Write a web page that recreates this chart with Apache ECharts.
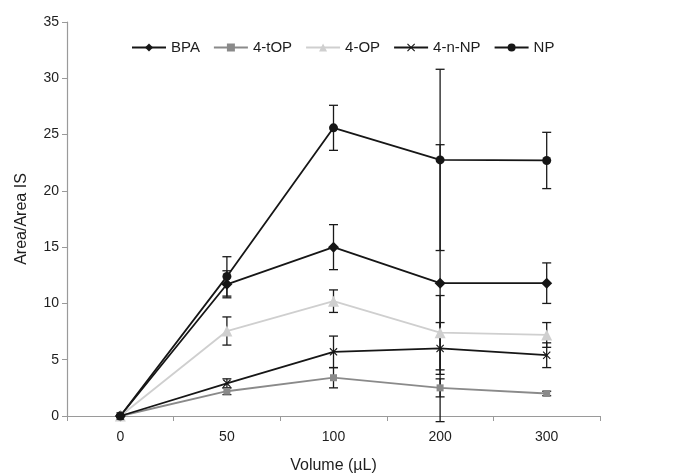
<!DOCTYPE html>
<html>
<head>
<meta charset="utf-8">
<script src="https://cdn.jsdelivr.net/npm/echarts@6/dist/echarts.min.js"></script>
<style>
  html, body { margin: 0; padding: 0; background: #fff; }
  #chart { width: 678px; height: 474px; }
</style>
</head>
<body>
<div id="chart"></div>
<script>
// Spiking volume levels (µL)
const volumes = ['0', '50', '100', '200', '300'];

// Mean response ratios
const bpa   = [0, 11.7, 15.0, 11.8, 11.8];
const tOP   = [0, 2.2, 3.4, 2.5, 2.0];
const OP    = [0, 7.55, 10.2, 7.4, 7.2];
const nNP   = [0, 2.9, 5.7, 6.0, 5.4];
const np    = [0, 12.4, 25.6, 22.75, 22.7];

// Standard deviations (symmetric error bars)
const bpaErr = [0, 1.2, 2.0, 12.3, 1.8];
const tOPErr = [0, 0.3, 0.9, 0.8, 0.2];
const OPErr  = [0, 1.25, 1.0, 3.3, 1.1];
const nNPErr = [0, 0.4, 1.4, 2.3, 1.1];
const npErr  = [0, 1.75, 2.0, 8.05, 2.5];

const yTicks = { min: 0, max: 35, interval: 5 };

const crossPath = 'path://M1,0L5,4L9,0L10,1L6,5L10,9L9,10L5,6L1,10L0,9L4,5L0,1Z';

const seriesDefs = [
  { name: 'BPA',    data: bpa, err: bpaErr, color: '#161616', symbol: 'diamond',  size: 11 },
  { name: '4-tOP',  data: tOP, err: tOPErr, color: '#8a8a8a', symbol: 'rect',     size: 7 },
  { name: '4-OP',   data: OP,  err: OPErr,  color: '#cfcfcf', symbol: 'triangle', size: 11 },
  { name: '4-n-NP', data: nNP, err: nNPErr, color: '#161616', symbol: crossPath,  size: 8 },
  { name: 'NP',     data: np,  err: npErr,  color: '#161616', symbol: 'circle',   size: 9 }
];

function errorSeries(def) {
  const rows = def.data.map((v, i) => [i, v - def.err[i], v + def.err[i]]);
  return {
    type: 'custom',
    name: def.name + ' SD',
    z: 1,
    silent: true,
    data: rows,
    renderItem: function (params, api) {
      const x = api.value(0);
      const lo = api.coord([x, api.value(1)]);
      const hi = api.coord([x, api.value(2)]);
      if (Math.abs(hi[1] - lo[1]) < 0.5) return null;
      const w = 4.5;
      const style = { stroke: '#1a1a1a', lineWidth: 1.3 };
      return {
        type: 'group',
        children: [
          { type: 'line', shape: { x1: lo[0], y1: lo[1], x2: hi[0], y2: hi[1] }, style: style },
          { type: 'line', shape: { x1: lo[0] - w, y1: lo[1], x2: lo[0] + w, y2: lo[1] }, style: style },
          { type: 'line', shape: { x1: hi[0] - w, y1: hi[1], x2: hi[0] + w, y2: hi[1] }, style: style }
        ]
      };
    },
    encode: { x: 0, y: [1, 2] }
  };
}

const series = [];
seriesDefs.forEach(def => {
  series.push({
    type: 'line',
    name: def.name,
    data: def.data,
    z: 3,
    symbol: def.symbol,
    symbolSize: def.size,
    showAllSymbol: true,
    lineStyle: { color: def.color, width: 1.8 },
    itemStyle: { color: def.color, opacity: 1 },
    emphasis: { disabled: true }
  });
});
seriesDefs.forEach(def => series.push(errorSeries(def)));

const chart = echarts.init(document.getElementById('chart'), null, { renderer: 'canvas' });
chart.setOption({
  animation: false,
  backgroundColor: '#ffffff',
  textStyle: { fontFamily: 'Liberation Sans, Arial, sans-serif' },
  grid: { left: 67, right: 78, top: 22, bottom: 58, containLabel: false, outerBoundsMode: 'none' },
  legend: {
    top: 35,
    left: 126,
    itemWidth: 34,
    itemHeight: 10,
    itemGap: 13,
    data: seriesDefs.map(d => d.name),
    textStyle: { fontSize: 15, color: '#1e1e1e', fontFamily: 'Liberation Sans, Arial, sans-serif' }
  },
  xAxis: {
    type: 'category',
    data: volumes,
    boundaryGap: true,
    name: 'Volume (µL)',
    nameLocation: 'middle',
    nameGap: 42,
    nameTextStyle: { fontSize: 16, color: '#1e1e1e' },
    axisLine: { lineStyle: { color: '#9a9a9a', width: 1.2 } },
    axisTick: { show: true, length: 5, lineStyle: { color: '#9a9a9a' } },
    axisLabel: { fontSize: 14, color: '#1e1e1e', margin: 14 },
    splitLine: { show: false }
  },
  yAxis: {
    type: 'value',
    min: yTicks.min,
    max: yTicks.max,
    interval: yTicks.interval,
    name: 'Area/Area IS',
    nameLocation: 'middle',
    nameGap: 37,
    nameRotate: 90,
    nameTextStyle: { fontSize: 16, color: '#1e1e1e' },
    axisLine: { show: true, lineStyle: { color: '#9a9a9a', width: 1.2 } },
    axisTick: { show: true, length: 5, lineStyle: { color: '#9a9a9a' } },
    axisLabel: { fontSize: 14, color: '#1e1e1e', margin: 8 },
    splitLine: { show: false }
  },
  series: series
});
</script>
</body>
</html>
